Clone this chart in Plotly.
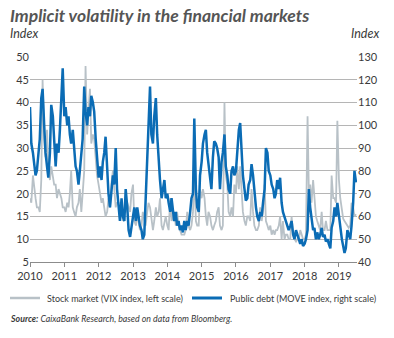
import pandas as pd
import plotly.graph_objects as go

# Semi-monthly readings, Jan 2010 - Jul 2019
vix = [
    19, 18, 24, 21, 19, 17, 17, 16, 23, 45, 32, 28, 34, 25, 23, 26, 24, 22, 22, 19, 21, 20, 19, 17,   # 2010
    17, 16, 18, 17, 20, 25, 17, 16, 15, 17, 18, 21, 16, 20, 25, 48, 33, 38, 43, 31, 33, 32, 28, 24,   # 2011
    22, 20, 18, 19, 17, 15, 16, 19, 17, 22, 25, 20, 17, 18, 18, 14, 17, 14, 16, 16, 18, 17, 16, 20,   # 2012
    22, 14, 13, 15, 14, 12, 13, 16, 14, 13, 16, 18, 17, 14, 12, 14, 17, 15, 16, 19, 13, 12, 14, 15,   # 2013
    13, 12, 19, 14, 15, 16, 13, 16, 13, 12, 11, 11, 11, 12, 16, 13, 12, 13, 16, 25, 14, 13, 13, 21,   # 2014
    19, 21, 19, 15, 13, 16, 15, 13, 12, 13, 14, 16, 17, 13, 12, 13, 40, 24, 22, 16, 15, 17, 15, 22,   # 2015
    20, 26, 21, 26, 19, 16, 14, 13, 15, 15, 14, 21, 16, 13, 12, 12, 13, 17, 14, 16, 22, 14, 13, 12,   # 2016
    13, 11, 12, 11, 12, 12, 13, 15, 10, 14, 10, 11, 11, 10, 10, 15, 11, 10, 9.5, 10, 10, 12, 11, 10,  # 2017
    10, 11, 37, 20, 22, 18, 23, 18, 15, 14, 13, 12, 16, 12, 12, 14, 12, 12, 12, 24, 19, 19, 18, 36,   # 2018
    23, 19, 16, 14.5, 14, 13.5, 13, 12.5, 13, 18, 17, 15, 15.5,                                       # 2019
]

move = [
    108, 92, 88, 84, 78, 80, 88, 94, 112, 116, 100, 88, 82, 77, 88, 109, 104, 92, 82, 92, 88, 98, 112, 125,   # 2010
    104, 108, 100, 104, 96, 92, 98, 88, 82, 80, 74, 80, 86, 94, 117, 106, 100, 108, 104, 113, 110, 106, 94, 86,  # 2011
    77, 82, 76, 84, 88, 95, 80, 70, 64, 72, 78, 74, 90, 72, 64, 58, 68, 60, 58, 72, 64, 54, 51, 56,   # 2012
    60, 64, 58, 64, 60, 56, 54, 50, 52, 66, 82, 98, 117, 96, 92, 104, 112, 96, 84, 76, 68, 72, 76, 68,   # 2013
    70, 66, 62, 68, 62, 58, 62, 56, 58, 54, 56, 53, 58, 54, 58, 56, 62, 68, 70, 103, 72, 64, 62, 78,   # 2014
    84, 92, 96, 98, 88, 82, 78, 72, 86, 93, 92, 90, 86, 72, 84, 88, 96, 82, 78, 72, 70, 80, 82, 78,   # 2015
    80, 90, 98, 101, 86, 78, 72, 67, 68, 74, 76, 83, 78, 70, 64, 60, 58, 62, 60, 66, 72, 90, 88, 80,   # 2016
    78, 74, 72, 68, 70, 76, 72, 77, 66, 62, 60, 58, 56, 54, 56, 58, 52, 50, 54, 52, 49, 48, 50, 47,   # 2017
    48, 50, 54, 72, 64, 58, 54, 55, 50, 53, 50, 52, 55, 51, 52, 49, 50, 48, 46, 55, 58, 64, 60, 66,   # 2018
    60, 56, 50, 47, 44, 46, 54, 52, 50, 56, 66, 80, 75,                                               # 2019
]

dates = pd.date_range("2010-01-01", periods=len(vix), freq="SMS")
years = list(range(2010, 2020))
year_labels = [str(y) for y in years]

GRAY = "#b8c1c7"
BLUE = "#0b6cb5"
TEXT = "#3a3a3a"
FONT = "Lato"

W, H = 394, 338
L, R, T, B = 30, 37, 57, 76
pw, ph = W - L - R, H - T - B


def px_x(px):
    return (px - L) / pw


def px_y(py):
    return (H - B - py) / ph


fig = go.Figure()
fig.add_trace(go.Scatter(x=dates, y=vix, mode="lines", name="Stock market (VIX index, left scale)",
                         line=dict(color=GRAY, width=1.8), yaxis="y"))
fig.add_trace(go.Scatter(x=dates, y=move, mode="lines", name="Public debt (MOVE index, right scale)",
                         line=dict(color=BLUE, width=2.5), yaxis="y2"))

fig.update_layout(
    width=W, height=H,
    margin=dict(l=L, r=R, t=T, b=B),
    paper_bgcolor="white", plot_bgcolor="white",
    showlegend=False,
    font=dict(family=FONT, size=11, color=TEXT),
    xaxis=dict(
        type="date", range=["2010-01-01", "2019-07-12"],
        tickvals=[f"{y}-01-01" for y in years], ticktext=year_labels,
        showgrid=False, showline=True, linecolor="#8c8c8c", linewidth=1,
        ticks="outside", ticklen=4, tickcolor="#8c8c8c",
        tickfont=dict(size=11, color=TEXT), zeroline=False,
    ),
    yaxis=dict(
        range=[5, 50], dtick=5, tick0=5,
        showgrid=True, gridcolor="#b5b5b5", gridwidth=1,
        showline=False, zeroline=False, ticks="",
        tickfont=dict(size=11, color=TEXT),
    ),
    yaxis2=dict(
        range=[40, 130], dtick=10, tick0=40, overlaying="y", side="right",
        showgrid=False, showline=False, zeroline=False, ticks="",
        tickfont=dict(size=11, color=TEXT),
    ),
)

ann = [
    dict(text="<b><i>Implicit volatility in the financial markets</i></b>",
         x=px_x(8), y=px_y(15), font=dict(size=17.5, color="#555555")),
    dict(text="<i>Index</i>", x=px_x(8), y=px_y(34), font=dict(size=12.5, color=TEXT)),
    dict(text="Stock market (VIX index, left scale)", x=px_x(45), y=px_y(298),
         font=dict(size=9, color=TEXT)),
    dict(text="Public debt (MOVE index, right scale)", x=px_x(228), y=px_y(298),
         font=dict(size=9, color=TEXT)),
    dict(text="<b><i>Source:</i></b><i> CaixaBank Research, based on data from Bloomberg.</i>",
         x=px_x(8), y=px_y(318), font=dict(size=8.8, color=TEXT)),
]
for a in ann:
    fig.add_annotation(xref="paper", yref="paper", xanchor="left", yanchor="middle",
                       showarrow=False, **a)
fig.add_annotation(xref="paper", yref="paper", xanchor="right", yanchor="middle",
                   showarrow=False, text="<i>Index</i>", x=px_x(381), y=px_y(34),
                   font=dict(size=12.5, color=TEXT))

# legend swatches
fig.add_shape(type="line", xref="paper", yref="paper", x0=px_x(10), x1=px_x(40),
              y0=px_y(298), y1=px_y(298), line=dict(color=GRAY, width=2.5))
fig.add_shape(type="line", xref="paper", yref="paper", x0=px_x(192), x1=px_x(222),
              y0=px_y(298), y1=px_y(298), line=dict(color=BLUE, width=3))

fig.write_html("out.html")
